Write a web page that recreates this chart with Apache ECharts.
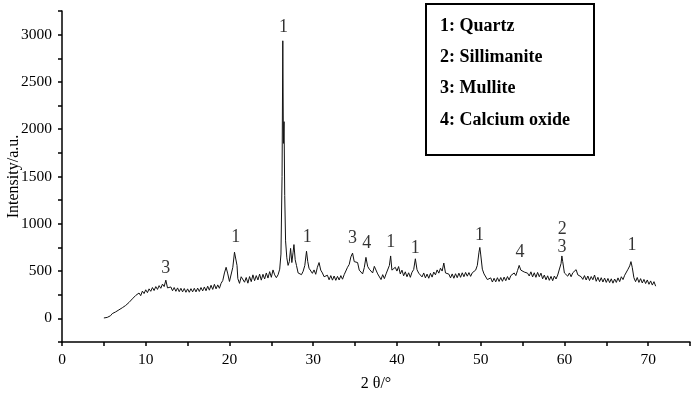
<!DOCTYPE html>
<html>
<head>
<meta charset="utf-8">
<script src="https://cdn.jsdelivr.net/npm/echarts@6/dist/echarts.min.js"></script>
<style>
  html, body { margin: 0; padding: 0; background: #fff; }
  #chart { width: 692px; height: 395px; }
</style>
</head>
<body>
<div id="chart"></div>
<script>
// XRD pattern, [2theta, intensity]
const pattern = [
  [5.0, 4], [5.2, 14], [5.4, 10], [5.6, 30], [5.8, 28], [6.0, 50], [6.2, 44], [6.4, 68], [6.6, 64], [6.8, 90],
  [7.0, 84], [7.2, 112], [7.4, 106], [7.6, 136], [7.8, 128], [8.0, 168], [8.2, 160], [8.4, 206], [8.6, 200], [8.8, 242],
  [9.0, 226], [9.2, 268], [9.4, 240], [9.6, 288], [9.8, 262], [10.0, 302], [10.2, 272], [10.4, 312], [10.6, 286], [10.8, 326],
  [11.0, 294], [11.2, 336], [11.4, 306], [11.6, 346], [11.8, 318], [12.0, 362], [12.2, 336], [12.4, 404], [12.6, 322], [12.8, 318],
  [13.0, 332], [13.2, 292], [13.4, 326], [13.6, 286], [13.8, 322], [14.0, 282], [14.2, 318], [14.4, 280], [14.6, 316], [14.8, 276],
  [15.0, 312], [15.2, 276], [15.4, 314], [15.6, 280], [15.8, 318], [16.0, 280], [16.2, 320], [16.4, 284], [16.6, 326], [16.8, 290],
  [17.0, 332], [17.2, 292], [17.4, 340], [17.6, 298], [17.8, 350], [18.0, 306], [18.2, 360], [18.4, 312], [18.6, 354], [18.8, 318],
  [19.0, 370], [19.2, 400], [19.4, 480], [19.6, 540], [19.8, 470], [20.0, 390], [20.2, 410], [20.4, 540], [20.6, 700], [20.7, 720],
  [20.9, 560], [21.0, 420], [21.2, 370], [21.4, 440], [21.6, 452], [21.8, 382], [22.0, 432], [22.2, 372], [22.4, 442], [22.6, 388],
  [22.8, 460], [23.0, 398], [23.2, 452], [23.4, 406], [23.6, 468], [23.8, 404], [24.0, 466], [24.2, 416], [24.4, 480], [24.6, 426],
  [24.8, 494], [25.0, 434], [25.2, 512], [25.4, 460], [25.6, 430], [25.8, 460], [26.0, 520], [26.15, 680], [26.28, 1500], [26.37, 2935],
  [26.44, 1850], [26.52, 2080], [26.6, 1300], [26.7, 820], [26.85, 640], [27.0, 560], [27.15, 600], [27.3, 740], [27.45, 590], [27.6, 700],
  [27.7, 780], [27.85, 620], [28.0, 560], [28.2, 480], [28.4, 500], [28.6, 462], [28.8, 498], [29.0, 560], [29.2, 710], [29.35, 600],
  [29.5, 530], [29.7, 540], [29.9, 476], [30.1, 512], [30.3, 466], [30.5, 540], [30.7, 590], [30.9, 510], [31.1, 480], [31.3, 440],
  [31.5, 420], [31.7, 456], [31.9, 408], [32.1, 452], [32.3, 404], [32.5, 448], [32.7, 402], [32.9, 444], [33.1, 406], [33.3, 452],
  [33.5, 414], [33.7, 462], [33.9, 460], [34.1, 540], [34.3, 570], [34.5, 650], [34.7, 690], [34.9, 600], [35.1, 580], [35.3, 590],
  [35.5, 510], [35.7, 512], [35.9, 470], [36.1, 536], [36.3, 645], [36.5, 550], [36.7, 520], [36.9, 540], [37.1, 480], [37.3, 550],
  [37.5, 570], [37.7, 470], [37.9, 462], [38.1, 410], [38.3, 462], [38.5, 420], [38.7, 470], [38.9, 460], [39.1, 560], [39.25, 660],
  [39.4, 510], [39.6, 500], [39.8, 540], [40.0, 500], [40.2, 548], [40.4, 470], [40.6, 510], [40.8, 450], [41.0, 492], [41.2, 440],
  [41.4, 482], [41.6, 434], [41.8, 488], [42.0, 516], [42.2, 630], [42.4, 514], [42.6, 478], [42.8, 486], [43.0, 438], [43.2, 480],
  [43.4, 428], [43.6, 468], [43.8, 424], [44.0, 476], [44.2, 436], [44.4, 490], [44.6, 460], [44.8, 512], [45.0, 478], [45.2, 530],
  [45.4, 500], [45.6, 585], [45.8, 480], [46.0, 482], [46.2, 468], [46.4, 428], [46.6, 470], [46.8, 424], [47.0, 472], [47.2, 430],
  [47.4, 478], [47.6, 434], [47.8, 482], [48.0, 440], [48.2, 486], [48.4, 446], [48.6, 484], [48.8, 444], [49.0, 482], [49.2, 470],
  [49.4, 510], [49.6, 560], [49.8, 700], [49.9, 750], [50.0, 680], [50.2, 520], [50.4, 470], [50.6, 450], [50.8, 410], [51.0, 392],
  [51.2, 428], [51.4, 384], [51.6, 424], [51.8, 386], [52.0, 430], [52.2, 390], [52.4, 432], [52.6, 392], [52.8, 436], [53.0, 398],
  [53.2, 442], [53.4, 406], [53.6, 452], [53.8, 440], [54.0, 480], [54.2, 452], [54.4, 505], [54.6, 560], [54.8, 510], [55.0, 500],
  [55.2, 490], [55.4, 482], [55.6, 478], [55.8, 448], [56.0, 492], [56.2, 438], [56.4, 482], [56.6, 434], [56.8, 486], [57.0, 440],
  [57.2, 478], [57.4, 418], [57.6, 458], [57.8, 408], [58.0, 450], [58.2, 402], [58.4, 444], [58.6, 398], [58.8, 448], [59.0, 416],
  [59.2, 458], [59.4, 462], [59.6, 580], [59.7, 660], [59.8, 600], [60.0, 480], [60.2, 482], [60.4, 446], [60.6, 480], [60.8, 440],
  [61.0, 482], [61.2, 470], [61.4, 515], [61.6, 460], [61.8, 452], [62.0, 440], [62.2, 412], [62.4, 452], [62.6, 406], [62.8, 448],
  [63.0, 400], [63.2, 442], [63.4, 408], [63.6, 458], [63.8, 392], [64.0, 434], [64.2, 388], [64.4, 430], [64.6, 384], [64.8, 426],
  [65.0, 380], [65.2, 422], [65.4, 378], [65.6, 418], [65.8, 372], [66.0, 416], [66.2, 380], [66.4, 428], [66.6, 388], [66.8, 440],
  [67.0, 410], [67.2, 456], [67.4, 462], [67.6, 520], [67.8, 555], [67.95, 600], [68.1, 540], [68.3, 430], [68.5, 388], [68.7, 432],
  [68.9, 380], [69.1, 420], [69.3, 374], [69.5, 412], [69.7, 368], [69.9, 406], [70.1, 360], [70.3, 396], [70.5, 352], [70.7, 388],
  [70.9, 340]
];

// phase markers above the peaks: [2theta, intensity, text]
const peakLabels = [
  [12.4, 525, '3'], [20.75, 858, '1'], [26.45, 3076, '1'], [29.3, 855, '1'],
  [34.7, 845, '3'], [36.4, 789, '4'], [39.27, 806, '1'], [42.2, 736, '1'],
  [49.86, 876, '1'], [54.7, 700, '4'], [59.7, 753, '3'], [59.75, 947, '2'],
  [68.06, 771, '1']
];

const phases = ['1: Quartz', '2: Sillimanite', '3: Mullite', '4: Calcium oxide'];

const FONT = '"Liberation Serif", "DejaVu Serif", serif';

const chart = echarts.init(document.getElementById('chart'));

const legendGraphics = [
  {
    type: 'rect',
    left: 425, top: 3,
    shape: { width: 168, height: 151 },
    style: { fill: '#fff', stroke: '#000', lineWidth: 2 },
    z: 10
  }
].concat(phases.map((p, i) => ({
  type: 'text',
  left: 440,
  top: 17 + i * 31.3,
  style: { text: p, fill: '#000', font: 'bold 18px ' + FONT },
  z: 11
})));

chart.setOption({
  animation: false,
  grid: { left: 62, right: 2, top: 11, bottom: 53, outerBoundsMode: 'none', containLabel: false },
  xAxis: {
    type: 'value',
    min: 0, max: 75, interval: 5,
    name: '2 θ/°',
    nameLocation: 'middle',
    nameGap: 34,
    nameMoveOverlap: false,
    nameTextStyle: { fontFamily: FONT, fontSize: 16, color: '#000' },
    axisLine: { onZero: false, lineStyle: { color: '#000', width: 1.5 } },
    axisTick: { show: true, length: 4, lineStyle: { color: '#000', width: 1.5 } },
    axisLabel: {
      margin: 10,
      fontFamily: FONT, fontSize: 15.5, color: '#000',
      formatter: v => (v % 10 === 0 ? String(v) : '')
    },
    splitLine: { show: false }
  },
  yAxis: {
    type: 'value',
    min: -250, max: 3250, interval: 250,
    name: 'Intensity/a.u.',
    nameLocation: 'middle',
    nameGap: 40,
    nameMoveOverlap: false,
    nameTextStyle: { fontFamily: FONT, fontSize: 16, color: '#000' },
    axisLine: { show: true, lineStyle: { color: '#000', width: 1.5 } },
    axisTick: { show: true, length: 4, lineStyle: { color: '#000', width: 1.5 } },
    axisLabel: {
      margin: 10,
      fontFamily: FONT, fontSize: 15.5, color: '#000',
      formatter: v => (v % 500 === 0 ? String(v) : '')
    },
    splitLine: { show: false }
  },
  graphic: legendGraphics,
  series: [
    {
      type: 'line',
      data: pattern,
      showSymbol: false,
      symbol: 'none',
      lineStyle: { color: '#111', width: 1 }
    },
    {
      type: 'scatter',
      data: peakLabels,
      symbolSize: 0,
      label: {
        show: true,
        position: 'inside',
        formatter: p => p.data[2],
        fontFamily: FONT, fontSize: 18, color: '#000'
      }
    }
  ]
});
</script>
</body>
</html>
